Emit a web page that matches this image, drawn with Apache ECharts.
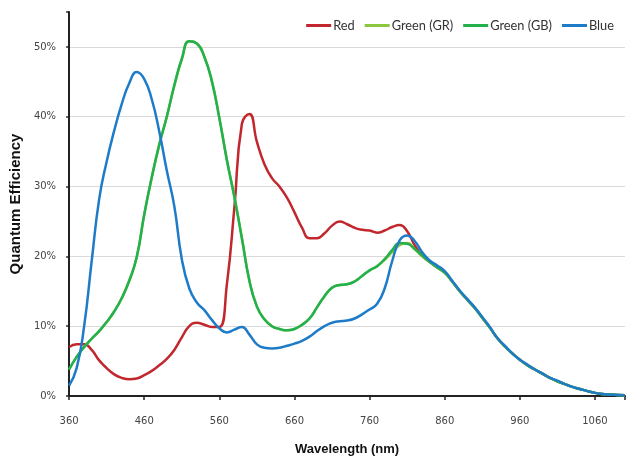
<!DOCTYPE html>
<html>
<head>
<meta charset="utf-8">
<script src="https://cdn.jsdelivr.net/npm/echarts@6/dist/echarts.min.js"></script>
<style>
html,body{margin:0;padding:0;background:#fff;}
#chart{width:628px;height:461px;}
</style>
</head>
<body>
<div id="chart"></div>
<script>
const wavelengths = [360,370,380,390,400,410,420,430,440,450,460,470,480,490,500,510,520,530,540,550,560,570,580,590,600,610,620,630,640,650,660,670,680,690,700,710,720,730,740,750,760,770,780,790,800,810,820,830,840,850,860,870,880,890,900,910,920,930,940,950,960,970,980,990,1000,1010,1020,1030,1040,1050,1060,1070,1080,1090,1100];

const red = [7.0,7.4,7.4,6.6,5.1,4.0,3.1,2.6,2.4,2.5,3.0,3.6,4.4,5.3,6.6,8.4,10.0,10.5,10.2,9.9,9.9,16.0,27.0,39.0,40.4,36.4,33.2,31.2,30.0,28.4,26.3,24.1,22.6,22.6,23.3,24.4,25.0,24.6,24.1,23.8,23.7,23.4,23.7,24.2,24.5,23.6,21.6,20.1,19.2,18.4,17.7,16.4,15.0,13.8,12.6,11.2,9.8,8.3,7.1,6.1,5.2,4.4,3.8,3.2,2.6,2.1,1.7,1.3,1.0,0.7,0.45,0.3,0.2,0.15,0.1];

const greenGR = [3.8,5.6,7.0,8.2,9.3,10.6,12.1,14.0,16.5,19.9,26.0,31.3,36.0,40.0,44.4,48.2,50.8,50.5,48.6,45.1,39.8,33.8,28.5,22.6,16.5,12.8,11.0,10.0,9.6,9.4,9.6,10.2,11.1,12.7,14.3,15.5,15.9,16.0,16.4,17.2,18.0,18.6,19.5,20.6,21.6,21.9,21.0,20.0,19.2,18.4,17.6,16.4,15.0,13.8,12.6,11.2,9.8,8.3,7.1,6.1,5.2,4.4,3.8,3.2,2.6,2.1,1.7,1.3,1.0,0.7,0.45,0.3,0.2,0.15,0.1];

const greenGB = [3.8,5.6,7.0,8.2,9.3,10.6,12.1,14.0,16.5,19.9,26.0,31.3,36.0,40.0,44.5,48.3,50.8,50.5,48.6,45.1,39.8,33.8,28.5,22.6,16.5,12.8,11.0,10.0,9.6,9.4,9.6,10.2,11.1,12.7,14.3,15.5,15.9,16.0,16.4,17.2,18.0,18.6,19.6,20.9,21.9,21.8,21.1,20.1,19.2,18.4,17.7,16.4,15.0,13.8,12.6,11.2,9.8,8.3,7.1,6.1,5.2,4.4,3.8,3.2,2.6,2.1,1.7,1.3,1.0,0.7,0.45,0.3,0.2,0.15,0.1];

const blue = [1.5,4.0,10.0,19.3,28.2,33.6,38.0,41.8,44.8,46.4,45.4,42.5,37.9,32.3,27.2,19.6,15.4,13.4,12.3,10.9,9.7,9.1,9.5,9.9,8.8,7.4,6.9,6.8,6.9,7.2,7.5,7.9,8.5,9.3,10.0,10.5,10.7,10.8,11.1,11.7,12.4,13.2,15.4,19.3,22.3,23.0,22.2,20.6,19.4,18.7,17.9,16.5,15.1,13.9,12.7,11.3,9.9,8.3,7.2,6.1,5.2,4.5,3.8,3.2,2.6,2.2,1.7,1.3,1.0,0.7,0.45,0.3,0.2,0.15,0.1];

const seriesNames = ['Red','Green (GR)','Green (GB)','Blue'];
const seriesColors = ['#c1272d','#8dc63f','#22b14c','#1e7bc8'];
const seriesValues = [red, greenGR, greenGB, blue];

const chart = echarts.init(document.getElementById('chart'), null, {renderer:'canvas'});

const option = {
  animation: false,
  backgroundColor: '#fff',
  grid: { left: 68, right: 0, top: 12, bottom: 58, containLabel: false },
  legend: {
    right: 9, top: 14,
    itemWidth: 25, itemHeight: 3, itemGap: 10,
    icon: 'rect',
    textStyle: { fontFamily: 'Lato', fontSize: 12.8, color: '#333', padding: [0,0,0,-3] },
    data: seriesNames
  },
  xAxis: {
    type: 'value', min: 360, max: 1100, interval: 100,
    name: 'Wavelength (nm)', nameLocation: 'middle', nameGap: 47,
    nameTextStyle: { fontFamily: 'Liberation Sans', fontWeight: 'bold', fontSize: 13, color: '#111' },
    axisLine: { show: true, lineStyle: { color: '#222', width: 2 } },
    axisTick: { show: true, length: 4, lineStyle: { color: '#222', width: 1.5 } },
    axisLabel: {
      margin: 20, fontFamily: 'DejaVu Sans', fontSize: 10, color: '#444',
      formatter: v => ((v - 360) % 100 === 0 ? String(v) : '')
    },
    splitLine: { show: false }
  },
  yAxis: {
    type: 'value', min: 0, max: 55, interval: 10,
    name: 'Quantum Efficiency', nameLocation: 'middle', nameGap: 43,
    nameTextStyle: { fontFamily: 'Liberation Sans', fontWeight: 'bold', fontSize: 15, color: '#111' },
    axisLine: { show: true, lineStyle: { color: '#222', width: 2 } },
    axisTick: { show: true, length: 3, lineStyle: { color: '#222', width: 1.5 } },
    axisLabel: {
      margin: 13, fontFamily: 'DejaVu Sans', fontSize: 10, color: '#444',
      formatter: v => (v % 10 === 0 ? v + '%' : '')
    },
    splitLine: { show: true, lineStyle: { color: ['#dadada','#dadada','#dadada','#dadada','#dadada','#dadada','rgba(0,0,0,0)'], width: 1 } }
  },
  series: seriesNames.map((name, k) => ({
    name: name,
    type: 'line',
    smooth: 0.5,
    showSymbol: false,
    symbol: 'none',
    color: seriesColors[k],
    lineStyle: { width: 2.5, color: seriesColors[k] },
    data: wavelengths.map((w, i) => [w, seriesValues[k][i]])
  }))
};

chart.setOption(option);
</script>
</body>
</html>
